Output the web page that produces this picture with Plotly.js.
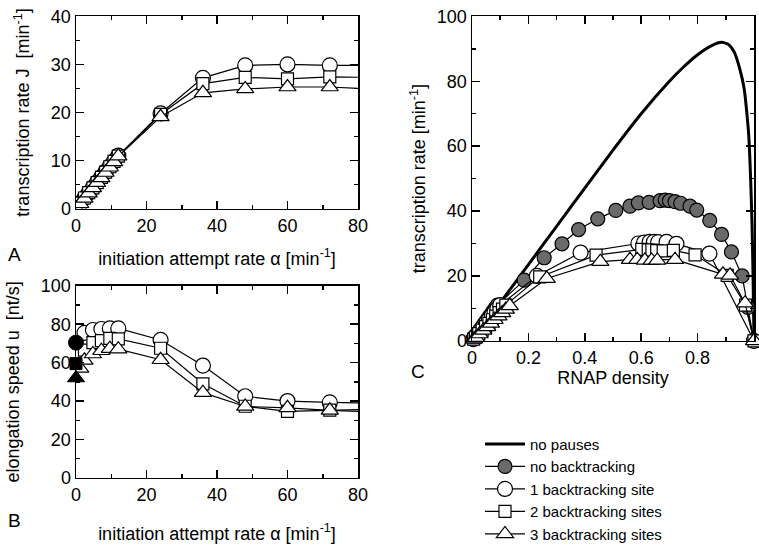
<!DOCTYPE html>
<html><head><meta charset="utf-8">
<script src="https://cdn.plot.ly/plotly-3.0.1.min.js"></script>
<style>html,body{margin:0;padding:0;background:#fff}#chart{width:759px;height:551px}</style>
</head><body><div id="chart"></div>
<script>
// ---------- Panel A: transcription rate J vs initiation attempt rate ----------
const alphaA   = [0, 1.2, 2.4, 3.6, 4.8, 6, 7.2, 8.4, 9.6, 10.8, 12, 24, 36, 48, 60, 72, 84];
const jA_one   = [0, 1.1, 2.2, 3.3, 4.4, 5.5, 6.6, 7.7, 8.8, 9.9, 11.0, 19.8, 27.2, 29.8, 30.0, 29.8, 29.8];
const jA_two   = [0, 1.1, 2.2, 3.3, 4.3, 5.4, 6.5, 7.6, 8.7, 9.8, 10.9, 19.6, 26.0, 27.3, 27.0, 27.4, 27.3];
const jA_three = [0, 1.0, 2.1, 3.2, 4.3, 5.4, 6.4, 7.5, 8.6, 9.7, 10.9, 19.1, 24.1, 24.9, 25.3, 25.3, 24.9];

// ---------- Panel B: elongation speed u vs initiation attempt rate ----------
const alphaB   = [2.4, 4.8, 7.2, 9.6, 12, 24, 36, 48, 60, 72, 84];
const uB_one   = [75.5, 77.0, 77.5, 77.8, 77.8, 71.8, 58.5, 42.5, 40.0, 39.3, 38.9];
const uB_two   = [66.5, 70.4, 71.5, 72.6, 72.4, 67.5, 49.0, 37.3, 34.6, 35.3, 35.7];
const alphaB3  = [1.2, 2.4, 4.8, 7.2, 9.6, 12, 24, 36, 48, 60, 72, 84];
const uB_three = [57.0, 61.2, 64.5, 66.2, 67.3, 67.0, 61.5, 44.4, 37.2, 36.5, 35.2, 34.3];
const alphaB0  = [0];
const uB0_one  = [70.4];
const uB0_two  = [59.5];
const uB0_three= [52.0];

// ---------- Panel C: transcription rate vs RNAP density ----------
const rhoNoPause = [0, 0.05, 0.1, 0.2, 0.3, 0.4, 0.5, 0.6, 0.7, 0.75, 0.8, 0.85, 0.885, 0.91, 0.93, 0.95, 0.965, 0.974, 0.982, 0.988, 0.993, 0.997, 1.0];
const jNoPause   = [0, 5.8, 11.7, 23.5, 35.3, 47.1, 58.8, 70.0, 80.0, 84.4, 88.2, 91.0, 92.0, 91.3, 89.0, 83.7, 77.8, 70.8, 62.4, 50.0, 36.0, 18.0, 0];

const rhoNoBack = [0.004, 0.009, 0.018, 0.027, 0.036, 0.045, 0.054, 0.063, 0.072, 0.081, 0.09, 0.185, 0.256, 0.319, 0.378, 0.446, 0.51, 0.56, 0.59, 0.628, 0.667, 0.685, 0.70, 0.72, 0.74, 0.773, 0.797, 0.843, 0.885, 0.92, 0.958, 0.978, 1.0];
const jNoBack   = [0.5, 1.1, 2.2, 3.3, 4.4, 5.5, 6.6, 7.7, 8.8, 9.9, 11.0, 18.7, 25.6, 29.9, 34.3, 37.6, 40.2, 41.5, 42.5, 42.7, 43.2, 43.4, 43.2, 42.9, 42.4, 41.5, 40.3, 37.1, 32.8, 27.4, 20.0, 10.3, 0];

const rhoOne = [0.005, 0.01, 0.02, 0.03, 0.04, 0.05, 0.06, 0.07, 0.08, 0.09, 0.1, 0.23, 0.385, 0.59, 0.61, 0.63, 0.645, 0.66, 0.69, 0.725, 0.842, 1.0];
const jOne   = [0.55, 1.1, 2.2, 3.3, 4.4, 5.5, 6.6, 7.7, 8.8, 9.9, 11.0, 20.0, 27.2, 30.0, 30.3, 30.5, 30.5, 30.4, 30.5, 29.9, 26.9, 0];

const rhoTwo = [0.006, 0.012, 0.024, 0.036, 0.048, 0.06, 0.072, 0.084, 0.096, 0.108, 0.12, 0.24, 0.44, 0.602, 0.625, 0.638, 0.655, 0.678, 0.714, 0.791, 0.905, 0.97, 1.0];
const jTwo   = [0.55, 1.1, 2.2, 3.3, 4.4, 5.4, 6.5, 7.6, 8.7, 9.8, 11.0, 19.7, 26.4, 28.2, 28.0, 28.0, 27.8, 27.7, 27.9, 26.5, 20.2, 11.0, 0];

const rhoThree = [0.007, 0.014, 0.027, 0.04, 0.054, 0.067, 0.08, 0.094, 0.107, 0.12, 0.134, 0.265, 0.455, 0.56, 0.586, 0.613, 0.637, 0.657, 0.72, 0.89, 0.915, 0.968, 1.0];
const jThree   = [0.5, 1.0, 2.1, 3.2, 4.3, 5.4, 6.5, 7.6, 8.6, 9.7, 10.8, 19.2, 24.4, 25.0, 25.0, 24.8, 24.8, 24.8, 25.0, 20.5, 20.2, 11.6, 0];

const legendNames = ['no pauses', 'no backtracking', '1 backtracking site', '2 backtracking sites', '3 backtracking sites'];

// ---------- styling ----------
const FONT = 'Liberation Sans, Arial, Helvetica, sans-serif';
const mk = (symbol, size, fill) => ({symbol: symbol, size: size, color: fill, line: {color: '#000', width: 1.2}});
const openCircle = () => mk('circle', 15, '#fff');
const openSquare = () => mk('square', 12, '#fff');
const openTri = () => mk('triangle-up', 15, '#fff');
const lineStyle = {color: '#000', width: 1.2};

const traces = [];
function series(x, y, marker, xa, ya, name, showlegend, clip) {
  traces.push({type: 'scatter', mode: 'lines+markers', x: x, y: y, xaxis: xa, yaxis: ya,
    marker: marker, line: lineStyle, name: name, showlegend: showlegend, cliponaxis: clip});
}
// Panel A
series(alphaA, jA_one, openCircle(), 'x', 'y', '', false, true);
series(alphaA, jA_two, openSquare(), 'x', 'y', '', false, true);
series(alphaA, jA_three, openTri(), 'x', 'y', '', false, true);
// Panel B
series(alphaB, uB_one, openCircle(), 'x2', 'y2', '', false, true);
series(alphaB, uB_two, openSquare(), 'x2', 'y2', '', false, true);
series(alphaB3, uB_three, openTri(), 'x2', 'y2', '', false, true);
[[uB0_one, 'circle', 15], [uB0_two, 'square', 12], [uB0_three, 'triangle-up', 15]].forEach(([v, s, sz]) => {
  traces.push({type: 'scatter', mode: 'markers', x: alphaB0, y: v, xaxis: 'x2', yaxis: 'y2',
    marker: {symbol: s, size: sz, color: '#000', line: {color: '#000', width: 1}}, showlegend: false, cliponaxis: false});
});
// Panel C
traces.push({type: 'scatter', mode: 'lines', x: rhoNoPause, y: jNoPause, xaxis: 'x3', yaxis: 'y3',
  line: {color: '#000', width: 3, shape: 'spline', smoothing: 0.6}, name: legendNames[0], showlegend: true});
series(rhoNoBack, jNoBack, mk('circle', 14, '#6a6a6a'), 'x3', 'y3', legendNames[1], true, false);
series(rhoOne, jOne, openCircle(), 'x3', 'y3', legendNames[2], true, false);
series(rhoTwo, jTwo, openSquare(), 'x3', 'y3', legendNames[3], true, false);
series(rhoThree, jThree, openTri(), 'x3', 'y3', legendNames[4], true, false);

function axis(domain, range, dtick, minor, title, anchor, standoff) {
  return {domain: domain, range: range, anchor: anchor, dtick: dtick, tick0: 0,
    showline: true, linecolor: '#000', linewidth: 1.5, mirror: 'ticks',
    ticks: 'inside', ticklen: 8, tickwidth: 1.5, tickcolor: '#000',
    minor: {dtick: minor, tick0: 0, ticks: 'inside', ticklen: 4, tickwidth: 1.5, tickcolor: '#000', showgrid: false},
    showgrid: false, zeroline: false,
    tickfont: {family: FONT, size: 18, color: '#000'},
    title: {text: title, font: {family: FONT, size: 18, color: '#000'}, standoff: standoff},
    fixedrange: true};
}
const W = 759, H = 551;
const px = (a, b) => [a / W, b / W];
const py = (top, bot) => [1 - bot / H, 1 - top / H];
const alphaTitle = 'initiation attempt rate \u03b1 [min<sup>-1</sup>]';

const layout = {
  width: W, height: H, margin: {l: 0, r: 0, t: 0, b: 0},
  paper_bgcolor: '#fff', plot_bgcolor: '#fff',
  font: {family: FONT, color: '#000'},
  xaxis:  axis(px(76, 358), [0, 80], 20, 10, alphaTitle, 'y', 17),
  yaxis:  axis(py(17, 216), [0, 40], 10, 5, 'transcription rate J  [min<sup>-1</sup>]', 'x', 16),
  xaxis2: axis(px(76, 358), [0, 80], 20, 10, alphaTitle, 'y2', 23),
  yaxis2: axis(py(296, 495), [0, 100], 20, 10, 'elongation speed u  [nt/s]', 'x2', 16),
  xaxis3: axis(px(472, 754), [0, 1], 0.2, 0.1, 'RNAP density', 'y3', 2),
  yaxis3: axis(py(17, 353), [0, 100], 20, 10, 'transcription rate [min<sup>-1</sup>]', 'x3', 6),
  showlegend: true,
  legend: {x: 480 / W, y: 1 - 443 / H, xanchor: 'left', yanchor: 'top',
    font: {family: FONT, size: 15, color: '#000'}, bgcolor: 'rgba(0,0,0,0)', borderwidth: 0,
    itemwidth: 40, tracegroupgap: 0},
  annotations: [
    {text: 'A', x: 14 / W, y: 1 - 264 / H, xref: 'paper', yref: 'paper', showarrow: false, xanchor: 'center', yanchor: 'middle', font: {family: FONT, size: 19}},
    {text: 'B', x: 14 / W, y: 1 - 539 / H, xref: 'paper', yref: 'paper', showarrow: false, xanchor: 'center', yanchor: 'middle', font: {family: FONT, size: 19}},
    {text: 'C', x: 418 / W, y: 1 - 385 / H, xref: 'paper', yref: 'paper', showarrow: false, xanchor: 'center', yanchor: 'middle', font: {family: FONT, size: 19}}
  ]
};
Plotly.newPlot('chart', traces, layout, {displayModeBar: false, staticPlot: true});
</script></body></html>
